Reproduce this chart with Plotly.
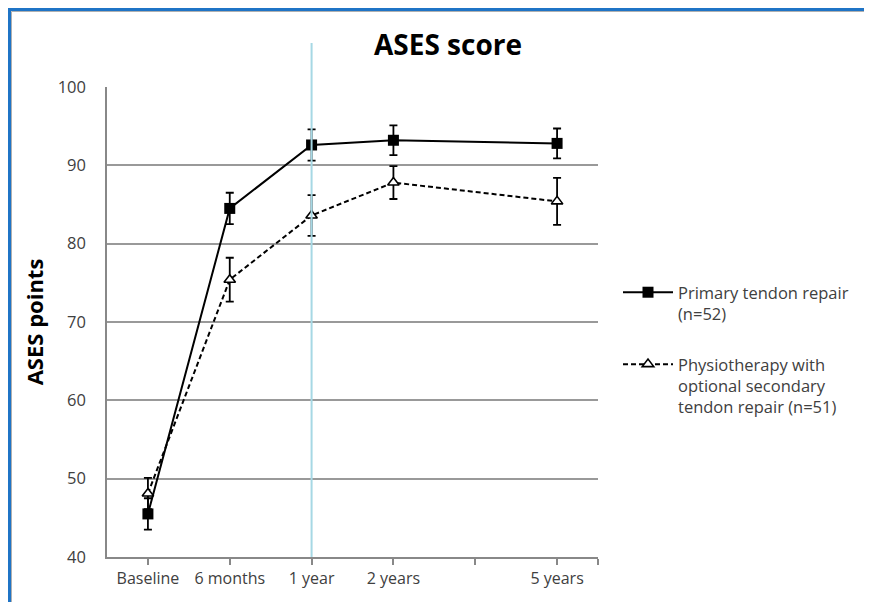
import plotly.graph_objects as go

# Data
x_pos = [0, 1, 2, 3, 5]
tick_vals = [0, 1, 2, 3, 4, 5, 5.5]
tick_text = ["Baseline", "6 months", "1 year", "2 years", "", "5 years", ""]

primary = [45.5, 84.5, 92.6, 93.2, 92.8]
primary_err = [2.0, 2.0, 2.0, 1.9, 1.9]
physio = [48.1, 75.4, 83.6, 87.8, 85.4]
physio_err = [2.0, 2.8, 2.6, 2.1, 3.0]

name_primary = "Primary tendon repair<br>(n=52)"
name_physio = "Physiotherapy with<br>optional secondary<br>tendon repair (n=51)"

W, H = 872, 602
OFF = 8  # page body margin
# target plot area in page coordinates
PL, PR, PT, PB = 107, 598, 87, 557
L, T = PL - OFF, PT - OFF
R, B = W - (PR - OFF), H - (PB - OFF)
pw, ph = W - L - R, H - T - B


def px(xpage):
    return (xpage - PL) / pw


def py(ypage):
    return (PB - ypage) / ph


fig = go.Figure()
fig.add_trace(go.Scatter(
    x=x_pos, y=primary, name=name_primary, mode="lines+markers",
    legendgroup="a",
    line=dict(color="black", width=2),
    marker=dict(symbol="square", size=11, color="black"),
    error_y=dict(type="data", array=primary_err, color="black", thickness=1.8, width=4),
))
fig.add_trace(go.Scatter(
    x=x_pos, y=physio, name=name_physio, mode="lines+markers",
    legendgroup="b",
    line=dict(color="black", width=2, dash="5px,3px"),
    marker=dict(symbol="triangle-up", size=10, color="white", line=dict(color="black", width=1.6)),
    error_y=dict(type="data", array=physio_err, color="black", thickness=1.8, width=4),
))

shapes = [
    # light blue vertical line at 1 year
    dict(type="line", xref="x", yref="paper", x0=2, x1=2, y0=0, y1=py(43),
         line=dict(color="#a6d8e4", width=2), layer="above"),
    # blue frame
    dict(type="line", xref="paper", yref="paper", x0=px(9.5), x1=px(9.5), y0=py(8), y1=py(620),
         line=dict(color="#1f74c6", width=3)),
    dict(type="line", xref="paper", yref="paper", x0=px(8), x1=px(900), y0=py(9.5), y1=py(9.5),
         line=dict(color="#1f74c6", width=3)),
    dict(type="line", xref="paper", yref="paper", x0=px(11.5), x1=px(11.5), y0=py(11.5), y1=py(620),
         line=dict(color="#b0b0b0", width=1)),
    dict(type="line", xref="paper", yref="paper", x0=px(11.5), x1=px(900), y0=py(11.5), y1=py(11.5),
         line=dict(color="#b0b0b0", width=1)),
]

fig.update_layout(
    width=W, height=H,
    margin=dict(l=L, r=R, t=T, b=B),
    paper_bgcolor="white", plot_bgcolor="white",
    font=dict(family="Open Sans", size=16, color="#404040"),
    title=dict(text="<b>ASES score</b>", x=(448 - OFF) / W, xanchor="center",
               y=1 - (45 - OFF) / H, yanchor="middle",
               font=dict(family="Open Sans", size=28, color="black")),
    showlegend=True,
    legend=dict(x=px(618), xanchor="left", y=py(275), yanchor="top",
                font=dict(family="Open Sans", size=16.5, color="#404040"),
                traceorder="grouped", tracegroupgap=26, valign="top", itemwidth=50,
                bgcolor="rgba(0,0,0,0)"),
    shapes=shapes,
    xaxis=dict(range=[-0.5, 5.5], tickmode="array", tickvals=tick_vals, ticktext=tick_text,
               showgrid=False, zeroline=False, showline=True, linecolor="#888888", linewidth=1.5,
               ticks="outside", ticklen=6, tickcolor="#888888", tickwidth=1.5,
               tickfont=dict(size=16, color="#404040")),
    yaxis=dict(range=[40, 100], tickvals=[40, 50, 60, 70, 80, 90, 100],
               showgrid=True, gridcolor="#999999", gridwidth=1.5, zeroline=False,
               showline=True, linecolor="#888888", linewidth=1.5, ticks="",
               ticklabelstandoff=16,
               tickfont=dict(size=16.5, color="#404040"),
               title=dict(text="<b>ASES points</b>", standoff=8,
                          font=dict(family="Open Sans", size=22, color="black"))),
)

fig.write_html("out.html")
